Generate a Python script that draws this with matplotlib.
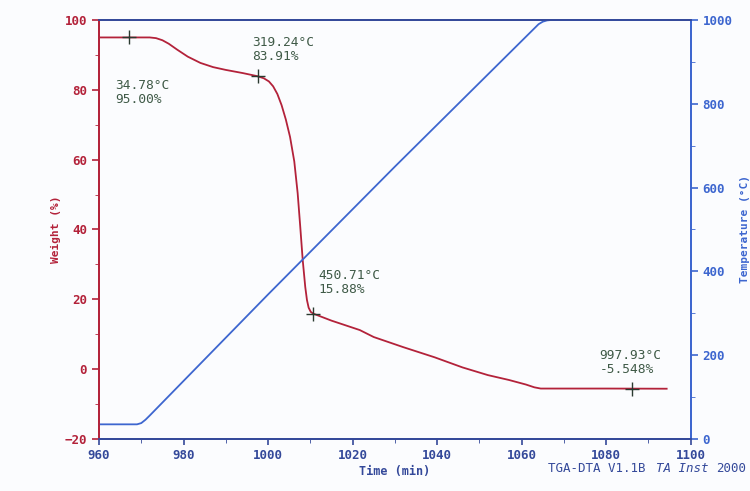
import matplotlib
matplotlib.use("Agg")
import matplotlib.pyplot as plt
from matplotlib.ticker import MultipleLocator

# ── Data ────────────────────────────────────────────────
time_w = [960, 966, 972, 973.5, 975, 976.5, 978.5, 981, 984, 987, 990, 994,
          997.5, 999, 1000.2, 1001.2, 1002.2, 1003.2, 1004.2, 1005.2,
          1006.2, 1007.0, 1007.6, 1008.2, 1008.8, 1009.2, 1009.6, 1010.1,
          1010.7, 1015, 1021.7, 1025, 1032, 1039.4, 1046, 1052, 1057, 1061,
          1063, 1064.5, 1080, 1094.3]
weight = [95.0, 95.0, 95.0, 94.8, 94.2, 93.2, 91.5, 89.5, 87.7, 86.5, 85.7,
          84.8, 83.9, 83.3, 82.4, 81.0, 78.8, 75.6, 71.5, 66.5,
          59.5, 50.4, 41.0, 31.2, 23.5, 19.8, 17.6, 16.4,
          15.9, 13.9, 11.2, 9.2, 6.3, 3.4, 0.5, -1.7, -3.1, -4.4,
          -5.2, -5.55, -5.55, -5.6]

time_t = [960, 969.0, 970.0, 971.0, 972, 1000, 1030, 1064.0, 1065.0, 1066.0,
          1067.0, 1094.3]
temp   = [35, 35, 38, 46, 56, 345, 650, 990, 996, 999, 1000, 1000]

marks_t = [967.0, 997.5, 1010.7, 1086.0]
marks_w = [95.0, 83.91, 15.88, -5.548]
labels  = ["34.78°C\n95.00%", "319.24°C\n83.91%",
           "450.71°C\n15.88%", "997.93°C\n-5.548%"]
label_xy = [(963.8, 83.0), (996.2, 95.3), (1011.8, 28.6), (1078.4, 5.9)]

RED, BLUE, NAVY, GREEN = '#b3223a', '#3d66cf', '#34499a', '#3f5a47'
MONO = 'DejaVu Sans Mono'

fig = plt.figure(figsize=(7.5, 4.91), dpi=100)
fig.patch.set_facecolor('#fbfcfe')
ax = fig.add_axes([0.132, 0.1059, 0.789, 0.8534])
ax.set_facecolor('#fbfcfe')
ax2 = ax.twinx()

ax.plot(time_w, weight, color=RED, lw=1.3, zorder=3)
ax.plot(marks_t, marks_w, ls='none', marker='+', ms=10, mew=1.0,
        color='#2a3a30', zorder=4)
for (tx, ty), s in zip(label_xy, labels):
    ax.text(tx, ty, s, color=GREEN, fontsize=9.3, family=MONO,
            ha='left', va='top', linespacing=1.1)

ax2.plot(time_t, temp, color=BLUE, lw=1.3)

ax.set_xlim(960, 1100)
ax.set_ylim(-20, 100)
ax2.set_ylim(0, 1000)

ax.xaxis.set_major_locator(MultipleLocator(20))
ax.xaxis.set_minor_locator(MultipleLocator(10))
ax.yaxis.set_major_locator(MultipleLocator(20))
ax.yaxis.set_minor_locator(MultipleLocator(10))
ax2.yaxis.set_major_locator(MultipleLocator(200))
ax2.yaxis.set_minor_locator(MultipleLocator(100))

ax.tick_params(axis='y', colors=RED, labelsize=9, length=5, width=1.2)
ax.tick_params(axis='y', which='minor', colors=RED, length=3)
ax.tick_params(axis='x', colors=NAVY, labelsize=9, length=4, width=1.2)
ax.tick_params(axis='x', which='minor', colors=NAVY, length=3)
ax2.tick_params(axis='y', colors=BLUE, labelsize=9, length=5, width=1.2)
ax2.tick_params(axis='y', which='minor', colors=BLUE, length=3)
for lab in ax.get_xticklabels() + ax.get_yticklabels() + ax2.get_yticklabels():
    lab.set_family(MONO)
    lab.set_fontweight('bold')

for a in (ax, ax2):
    a.spines['left'].set_color(RED)
    a.spines['bottom'].set_color(NAVY)
    a.spines['right'].set_color(BLUE)
    a.spines['top'].set_color(NAVY)
    for sp in a.spines.values():
        sp.set_linewidth(1.3)

ax.set_ylabel('Weight (%)', color=RED, fontsize=8, family=MONO,
              fontweight='bold', labelpad=3)
ax2.set_ylabel('Temperature (°C)', color=BLUE, fontsize=8, family=MONO,
               fontweight='bold', labelpad=5)
ax.set_xlabel('Time (min)', color=NAVY, fontsize=8.5, family=MONO,
              fontweight='bold', labelpad=2)

# footer, sits just under the 1100 tick label
fig.text(0.731, 0.045, 'TGA-DTA V1.1B', color=NAVY, fontsize=9,
         family=MONO, ha='left', va='center')
fig.text(0.874, 0.045, 'TA Inst', color=NAVY, fontsize=9,
         family=MONO, style='italic', ha='left', va='center')
fig.text(0.955, 0.045, '2000', color=NAVY, fontsize=9,
         family=MONO, ha='left', va='center')

fig.savefig('out.png', dpi=100, facecolor=fig.get_facecolor())
